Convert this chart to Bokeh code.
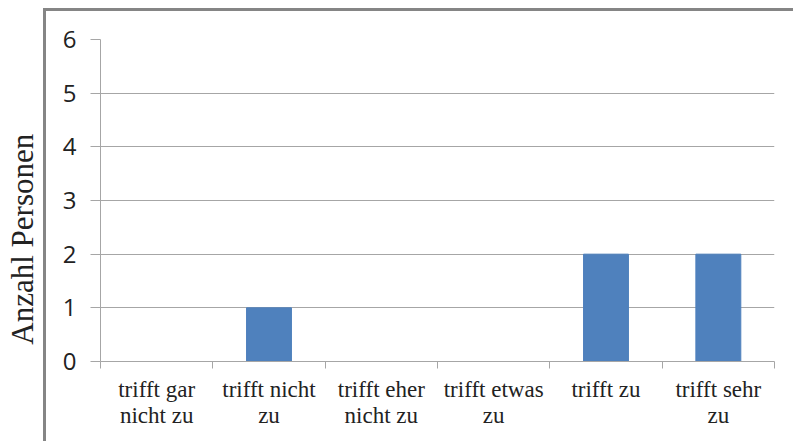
from bokeh.plotting import figure
from bokeh.models import FixedTicker, Range1d
from bokeh.embed import file_html
from bokeh.resources import INLINE

categories = ["trifft gar\nnicht zu", "trifft nicht\nzu", "trifft eher\nnicht zu",
              "trifft etwas\nzu", "trifft zu", "trifft sehr\nzu"]
counts = [0, 1, 0, 0, 2, 2]
y_ticks = [0, 1, 2, 3, 4, 5, 6]
y_title = "Anzahl Personen"

centers = [i + 0.5 for i in range(len(categories))]
bounds = list(range(len(categories) + 1))

p = figure(width=793, height=441, output_backend="svg", toolbar_location=None,
           x_range=Range1d(0, len(categories)), y_range=Range1d(0, 6),
           min_border_left=100, min_border_right=19, min_border_top=39, min_border_bottom=80)
p.outline_line_color = None
p.background_fill_color = "white"
p.border_fill_color = "white"

p.vbar(x=centers, top=counts, width=0.4, color="#4F81BD")

grid_c = "#A6A6A6"
p.xgrid.visible = False
p.ygrid.ticker = FixedTicker(ticks=y_ticks)
p.ygrid.grid_line_color = grid_c
p.ygrid.grid_line_width = 1

# x axis
xa = p.xaxis[0]
xa.ticker = FixedTicker(ticks=centers, minor_ticks=bounds)
xa.major_label_overrides = {c: lab for c, lab in zip(centers, categories)}
xa.major_tick_line_color = None
xa.major_tick_out = 0
xa.major_tick_in = 0
xa.minor_tick_line_color = grid_c
xa.minor_tick_out = 7
xa.minor_tick_in = 0
xa.axis_line_color = grid_c
xa.major_label_text_font = "Liberation Serif"
xa.major_label_text_font_size = "23px"
xa.major_label_text_color = "#222222"
xa.major_label_text_line_height = 1.05
xa.major_label_standoff = 8

# y axis
ya = p.yaxis[0]
ya.ticker = FixedTicker(ticks=y_ticks)
ya.axis_line_color = grid_c
ya.major_tick_line_color = grid_c
ya.major_tick_out = 10
ya.major_tick_in = 0
ya.minor_tick_line_color = None
ya.major_label_text_font = "Open Sans"
ya.major_label_text_font_size = "24px"
ya.major_label_text_color = "#222222"
ya.major_label_standoff = 14
# trailing no-break spaces push the (centred) title down to where the original sits
ya.axis_label = y_title + "\u00a0" * 10
ya.axis_label_text_font = "Liberation Serif"
ya.axis_label_text_font_size = "31px"
ya.axis_label_text_font_style = "normal"
ya.axis_label_text_color = "#222222"
ya.axis_label_standoff = 20

# chart area border (cropped at right and bottom of the window)
p.stylesheets = [":host::after { content: ''; position: absolute; left: 43px; top: 8px; "
                 "right: 0; bottom: 0; border-left: 3px solid #858585; "
                 "border-top: 3px solid #858585; pointer-events: none; }"]

open("out.html", "w").write(file_html(p, INLINE))
